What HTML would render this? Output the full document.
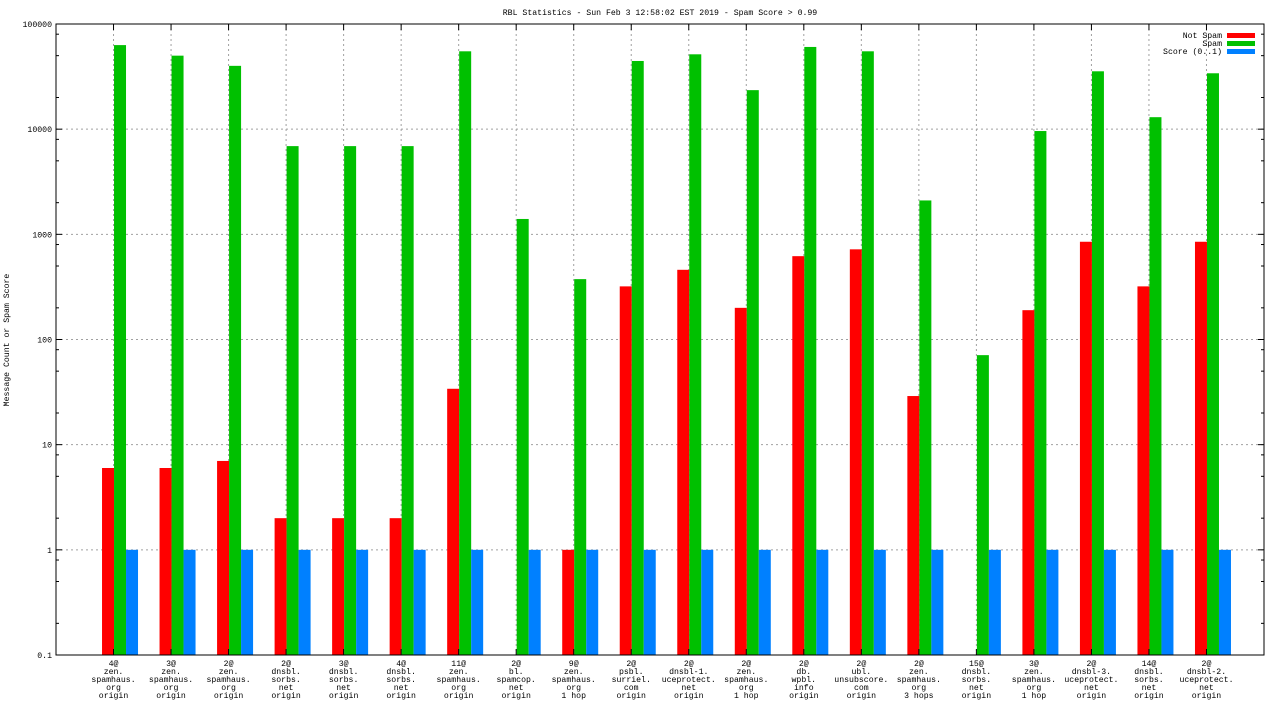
<!DOCTYPE html>
<html><head><meta charset="utf-8"><style>
html,body{margin:0;padding:0;background:#fff;}
svg text{font-family:"Liberation Mono","DejaVu Sans Mono",monospace;font-size:8.2px;fill:#000;}
</style></head><body>
<svg id="chart" width="1280" height="720" xmlns="http://www.w3.org/2000/svg">
<text x="660" y="15" text-anchor="middle">RBL Statistics - Sun Feb  3 12:58:02 EST 2019 - Spam Score &gt; 0.99</text>
<text transform="translate(9,340) rotate(-90)" text-anchor="middle">Message Count or Spam Score</text>
<g id="grid"></g><g id="bars"></g><g id="axes"></g><g id="labels"></g>
<g>
<text x="1222" y="38" text-anchor="end">Not Spam</text><rect x="1227" y="33" width="28" height="5" fill="#ff0000"/>
<text x="1222" y="46" text-anchor="end">Spam</text><rect x="1227" y="41" width="28" height="5" fill="#00c000"/>
<text x="1222" y="54" text-anchor="end">Score (0..1)</text><rect x="1227" y="49" width="28" height="5" fill="#0080ff"/>
</g>
</svg>
<script>
const categories=[["4@","zen.","spamhaus.","org","origin"],["3@","zen.","spamhaus.","org","origin"],["2@","zen.","spamhaus.","org","origin"],["2@","dnsbl.","sorbs.","net","origin"],["3@","dnsbl.","sorbs.","net","origin"],["4@","dnsbl.","sorbs.","net","origin"],["11@","zen.","spamhaus.","org","origin"],["2@","bl.","spamcop.","net","origin"],["9@","zen.","spamhaus.","org","1 hop"],["2@","psbl.","surriel.","com","origin"],["2@","dnsbl-1.","uceprotect.","net","origin"],["2@","zen.","spamhaus.","org","1 hop"],["2@","db.","wpbl.","info","origin"],["2@","ubl.","unsubscore.","com","origin"],["2@","zen.","spamhaus.","org","3 hops"],["15@","dnsbl.","sorbs.","net","origin"],["3@","zen.","spamhaus.","org","1 hop"],["2@","dnsbl-3.","uceprotect.","net","origin"],["14@","dnsbl.","sorbs.","net","origin"],["2@","dnsbl-2.","uceprotect.","net","origin"]];
const notSpam=[6,6,7,2,2,2,34,0,1,320,460,200,620,720,29,0,190,850,320,850];
const spam=[63000,50000,40000,6900,6900,6900,55000,1400,375,44500,51500,23500,60500,55000,2100,71,9600,35500,13000,34000];
const score=[1,1,1,1,1,1,1,1,1,1,1,1,1,1,1,1,1,1,1,1];
const yTicks=[0.1,1,10,100,1000,10000,100000];
const yTickLabels=["0.1","1","10","100","1000","10000","100000"];
const NS="http://www.w3.org/2000/svg";
const L=56,R=1264,T=24,B=655;
function y(v){return B-(Math.log10(v)+1)/6*(B-T);}
function x(i){return L+(i+1)*(R-L)/21;}
function mk(tag,attrs,parent){const e=document.createElementNS(NS,tag);for(const k in attrs)e.setAttribute(k,attrs[k]);document.getElementById(parent).appendChild(e);return e;}
yTicks.forEach((v,k)=>{
 if(k>0&&k<6){const g=mk('line',{x1:L,x2:R,y1:y(v),y2:y(v),stroke:'#a0a0a0','stroke-dasharray':'2,3'},'grid');
 
 }
 const t=mk('text',{x:L-4,y:y(v)+3,'text-anchor':'end'},'labels');t.textContent=yTickLabels[k];
 
 
 mk('line',{x1:L,x2:L+6,y1:y(v),y2:y(v),stroke:'#000'},'axes');
 mk('line',{x1:R,x2:R-6,y1:y(v),y2:y(v),stroke:'#000'},'axes');
 if(k<6){[2,5,8].forEach(m=>{const yy=y(v*m);
 mk('line',{x1:L,x2:L+3,y1:yy,y2:yy,stroke:'#000'},'axes');
 mk('line',{x1:R,x2:R-3,y1:yy,y2:yy,stroke:'#000'},'axes');});}
});
categories.forEach((c,i)=>{
 const cx=x(i);
 const g=mk('line',{x1:cx,x2:cx,y1:T,y2:B,stroke:'#a0a0a0','stroke-dasharray':'2,3'},'grid');
 
 
 mk('line',{x1:cx,x2:cx,y1:B,y2:B-6,stroke:'#000'},'axes');
 mk('line',{x1:cx,x2:cx,y1:T,y2:T+6,stroke:'#000'},'axes');
 [[notSpam[i],'#ff0000',-11.5,'bar-not-spam'],[spam[i],'#00c000',0.5,'bar-spam'],[score[i],'#0080ff',12.5,'bar-score']].forEach(([v,col,off,nm])=>{
  if(v>0){const yy=y(v);const r=mk('rect',{x:cx+off,y:yy,width:12,height:B-yy,fill:col},'bars');
  
  }
 });
 c.forEach((s,j)=>{const t=mk('text',{x:cx,y:666+j*8,'text-anchor':'middle'},'labels');t.textContent=s;
 
 });
});
const fr=mk('rect',{x:L,y:T,width:R-L,height:B-T,fill:'none',stroke:'#000'},'axes');


</script>
</body></html>
